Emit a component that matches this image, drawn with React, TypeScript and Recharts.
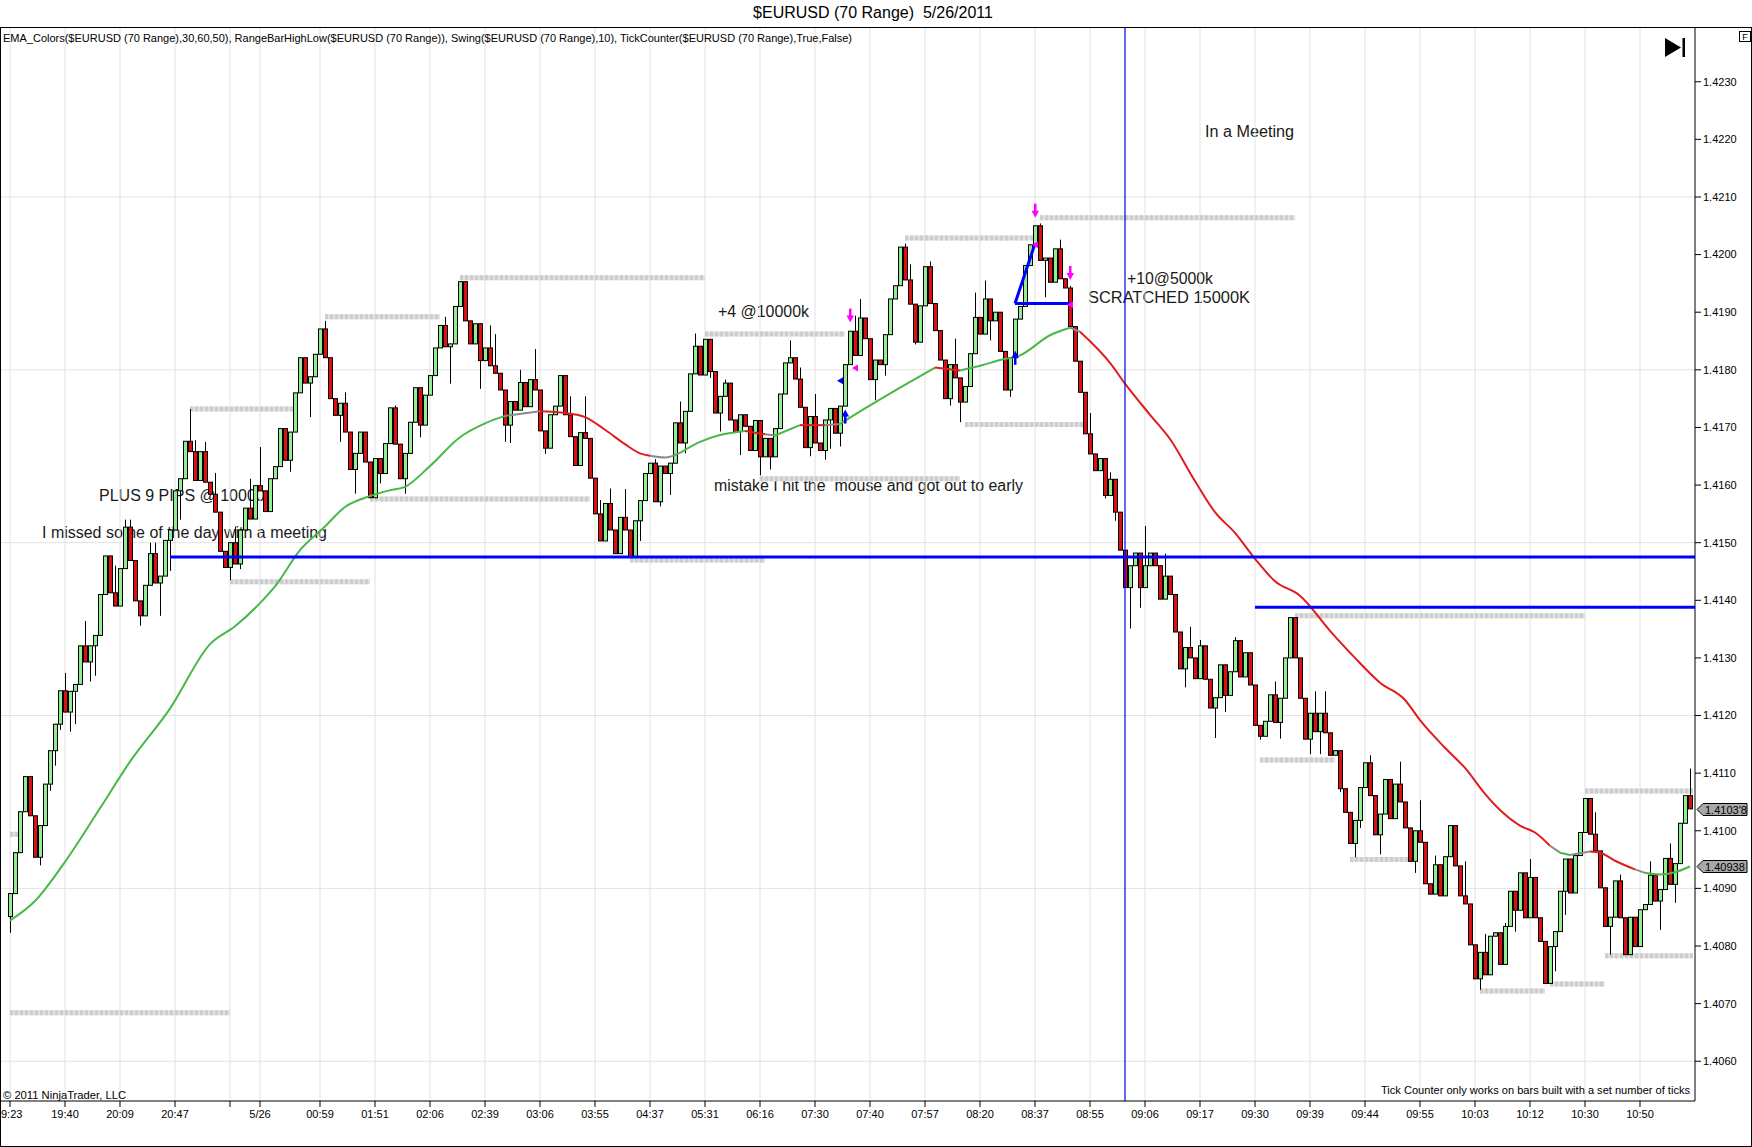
import React from "react";
import {
  Bar,
  CartesianGrid,
  ComposedChart,
  Line,
  ReferenceDot,
  ReferenceLine,
  XAxis,
  YAxis,
} from "recharts";

const FONT = '"Liberation Sans", Arial, sans-serif';
const W = 1752;
const H = 1147;

const UP_FILL = "#90ee90";
const DOWN_FILL = "#dc1010";
const EMA_UP = "#48b848";
const EMA_DOWN = "#e21c1c";
const EMA_FLAT = "#8a8a8a";

// range bars: each bar opens where the previous one closed
const firstOpen = 1.40851;
const closes = [
  1.40891, 1.40962, 1.41033, 1.41094, 1.41026, 1.40954, 1.41009, 1.41081, 1.41139, 1.41185,
  1.41243, 1.41206, 1.41242, 1.41254, 1.41321, 1.41293, 1.41321, 1.41339, 1.4141, 1.41477,
  1.41413, 1.4139, 1.41455, 1.41527, 1.41469, 1.41399, 1.41373, 1.41426, 1.41481, 1.4143,
  1.41442, 1.41504, 1.41522, 1.4159, 1.41611, 1.41676, 1.41658, 1.41608, 1.41658, 1.41605,
  1.41584, 1.41553, 1.41485, 1.41457, 1.415, 1.41463, 1.41522, 1.4156, 1.41541, 1.41599,
  1.4159, 1.41554, 1.41611, 1.41632, 1.41698, 1.41643, 1.41692, 1.4176, 1.41821, 1.41777,
  1.41788, 1.41827, 1.41871, 1.41821, 1.4175, 1.41721, 1.41742, 1.41692, 1.41627, 1.41655,
  1.41692, 1.4164, 1.41578, 1.41646, 1.4162, 1.41672, 1.41734, 1.41671, 1.41611, 1.41655,
  1.41709, 1.41769, 1.41704, 1.41756, 1.4179, 1.41838, 1.41877, 1.4184, 1.41845, 1.4191,
  1.41953, 1.41885, 1.41845, 1.4188, 1.41816, 1.41838, 1.41807, 1.41794, 1.41765, 1.41704,
  1.41745, 1.4173, 1.41778, 1.41736, 1.41783, 1.41765, 1.41694, 1.41664, 1.41722, 1.41737,
  1.4179, 1.41722, 1.41684, 1.41634, 1.41691, 1.41681, 1.41612, 1.4155, 1.41503, 1.41568,
  1.41522, 1.41481, 1.41544, 1.41522, 1.41476, 1.41538, 1.41573, 1.4162, 1.41638, 1.41571,
  1.41633, 1.4162, 1.41638, 1.41708, 1.41673, 1.41728, 1.41793, 1.41841, 1.41791, 1.41853,
  1.41797, 1.41725, 1.41754, 1.41777, 1.41713, 1.41693, 1.41722, 1.41702, 1.4166, 1.41712,
  1.41649, 1.41681, 1.41649, 1.41698, 1.41758, 1.41812, 1.41821, 1.41784, 1.41735, 1.41665,
  1.41719, 1.41673, 1.4166, 1.41713, 1.41733, 1.4169, 1.41737, 1.41809, 1.41867, 1.41825,
  1.4189, 1.41854, 1.41783, 1.41817, 1.41809, 1.41861, 1.41923, 1.41946, 1.42013, 1.41956,
  1.41914, 1.41848, 1.41911, 1.41979, 1.41915, 1.41868, 1.41817, 1.4175, 1.41809, 1.41786,
  1.41744, 1.41771, 1.41828, 1.41891, 1.41862, 1.41923, 1.41885, 1.419, 1.41832, 1.41765,
  1.41821, 1.41888, 1.4191, 1.41981, 1.42017, 1.4205, 1.4199, 1.41994, 1.41952, 1.4201,
  1.41958, 1.41942, 1.41875, 1.41815, 1.41761, 1.41689, 1.41654, 1.41625, 1.41646, 1.41582,
  1.4161, 1.41553, 1.41487, 1.41422, 1.4146, 1.41482, 1.41422, 1.4146, 1.41482, 1.4146,
  1.41402, 1.41442, 1.4141, 1.41345, 1.41281, 1.41318, 1.413, 1.41264, 1.41321, 1.41263,
  1.41213, 1.41231, 1.41288, 1.41235, 1.41276, 1.4133, 1.41267, 1.41309, 1.41253, 1.41183,
  1.41164, 1.4119, 1.41236, 1.41188, 1.4123, 1.413, 1.4137, 1.413, 1.4123, 1.41159,
  1.41204, 1.41172, 1.41204, 1.4117, 1.41131, 1.41139, 1.41073, 1.41032, 1.40978, 1.41018,
  1.41075, 1.41118, 1.41061, 1.40993, 1.41029, 1.41089, 1.41021, 1.41081, 1.4105, 1.41005,
  1.40947, 1.41, 1.4098, 1.40908, 1.4089, 1.40941, 1.40887, 1.40955, 1.41009, 1.40939,
  1.40887, 1.40873, 1.40802, 1.40743, 1.40789, 1.4075, 1.40817, 1.40823, 1.40768, 1.40834,
  1.40895, 1.40862, 1.40927, 1.40849, 1.40919, 1.40849, 1.40808, 1.40735, 1.40799, 1.40825,
  1.40895, 1.40951, 1.40892, 1.40957, 1.40997, 1.41056, 1.40994, 1.40965, 1.40901, 1.40834,
  1.4085, 1.40913, 1.40849, 1.40785, 1.4085, 1.40799, 1.40863, 1.40872, 1.40923, 1.40878,
  1.40898, 1.40952, 1.40907, 1.40943, 1.41013, 1.41061, 1.41038,
];

// [bar, price] of the wicks that stick out of the bodies
const wickHighs: [number, number][] = [
  [11, 1.41274], [15, 1.41364], [21, 1.4146], [23, 1.4154], [24, 1.4154], [28, 1.415],
  [29, 1.415], [36, 1.41732], [37, 1.41678], [39, 1.41675], [41, 1.41621], [45, 1.41528],
  [48, 1.41611], [50, 1.41666], [63, 1.41885], [67, 1.41761], [77, 1.41738], [87, 1.41892],
  [96, 1.41877], [97, 1.41862], [102, 1.418], [105, 1.41836], [111, 1.41791], [112, 1.41754],
  [115, 1.41754], [118, 1.41574], [120, 1.41594], [123, 1.41593], [129, 1.41645], [134, 1.41745],
  [137, 1.41863], [143, 1.41783], [156, 1.41851], [158, 1.41804], [161, 1.41758], [169, 1.41894],
  [170, 1.41923], [179, 1.42019], [180, 1.41983], [184, 1.41988], [189, 1.41854], [193, 1.41934],
  [195, 1.41955], [206, 1.42054], [210, 1.42026], [212, 1.41946], [216, 1.41725], [220, 1.41622],
  [227, 1.41529], [231, 1.41481], [236, 1.41354], [238, 1.41331], [245, 1.41336], [253, 1.41259],
  [261, 1.41242], [263, 1.41242], [272, 1.41131], [278, 1.4112], [282, 1.41053], [285, 1.40957],
  [291, 1.40947], [295, 1.40821], [299, 1.4084], [304, 1.40951], [317, 1.41032], [322, 1.40924],
  [328, 1.40947], [332, 1.40978], [336, 1.41108],
];
const wickLows: [number, number][] = [
  [0, 1.40823], [6, 1.4094], [7, 1.4107], [8, 1.41069], [9, 1.41113], [10, 1.41175],
  [12, 1.41172], [13, 1.41185], [16, 1.41259], [17, 1.41269], [26, 1.41356], [30, 1.41373],
  [32, 1.41451], [34, 1.4154], [44, 1.41435], [46, 1.41454], [56, 1.41623], [60, 1.41718],
  [66, 1.41675], [69, 1.41585], [74, 1.41603], [79, 1.41585], [82, 1.41683], [88, 1.41776],
  [94, 1.41767], [99, 1.41675], [100, 1.41673], [107, 1.41654], [126, 1.41503], [130, 1.41563],
  [132, 1.41583], [135, 1.41655], [140, 1.41786], [142, 1.41693], [146, 1.41652], [150, 1.41617],
  [152, 1.41627], [160, 1.4165], [163, 1.41644], [164, 1.41663], [166, 1.41667], [173, 1.41747],
  [175, 1.4179], [181, 1.41844], [188, 1.41738], [190, 1.41709], [196, 1.41851], [200, 1.41753],
  [207, 1.41926], [219, 1.41577], [221, 1.41538], [224, 1.41351], [226, 1.41387], [235, 1.41249],
  [241, 1.41161], [243, 1.41206], [250, 1.41158], [254, 1.4116], [260, 1.41133], [262, 1.41133],
  [266, 1.41067], [269, 1.40954], [270, 1.41005], [274, 1.40959], [281, 1.40927], [294, 1.40724],
  [301, 1.40825], [309, 1.40756], [311, 1.40854], [320, 1.40785], [330, 1.40828], [333, 1.40875],
];

// EMA_Colors, read at sample bars; trend letter is for the stretch to the next sample
const emaBars = [
  0, 5, 11, 18, 24, 32, 40, 45, 50, 53, 58, 63, 67, 71, 76, 79, 84, 90, 95, 99,
  106, 111, 115, 119, 123, 126, 128, 131, 134, 138, 142, 147, 151, 153, 158, 163, 166, 171, 177, 181,
  185, 190, 194, 198, 202, 208, 212, 214, 220, 223, 228, 232, 237, 241, 245, 249, 253, 258, 264, 269,
  274, 279, 282, 287, 291, 295, 298, 302, 305, 308, 310, 312, 316, 318, 321, 325, 327, 330, 333, 336,
];
const emaValues = [
  1.40844, 1.40878, 1.40946, 1.41039, 1.4112, 1.41212, 1.41324, 1.41355, 1.41395, 1.41424,
  1.41487, 1.41528, 1.41562, 1.41578, 1.41591, 1.41597, 1.41633, 1.41683, 1.41707, 1.4172,
  1.41728, 1.41725, 1.41718, 1.41696, 1.41671, 1.41655, 1.41651, 1.41648, 1.41656, 1.41675,
  1.41687, 1.41694, 1.41688, 1.41686, 1.41704, 1.41704, 1.41706, 1.41733, 1.41764, 1.41784,
  1.41804, 1.41799, 1.41807, 1.41817, 1.41825, 1.4186, 1.41873, 1.41866, 1.41812, 1.41776,
  1.41722, 1.4168, 1.41607, 1.41553, 1.41517, 1.41472, 1.41433, 1.41408, 1.41347, 1.413,
  1.41257, 1.41227, 1.41192, 1.41144, 1.41109, 1.41064, 1.41036, 1.41009, 1.40997, 1.40974,
  1.40962, 1.40958, 1.40964, 1.40962, 1.40948, 1.40933, 1.40927, 1.40924, 1.40928, 1.40938,
];
const emaTrend = "uuuuuuuuuuuuuuuuuuufddddddffuuudfudfuuuuduuuuufddddddddddddddddddddddfufdddfuuu".split("");

// RangeBarHighLow dotted levels: [from bar, to bar, price]
const rangeLines: [number, number, number][] = [
  [0, 44, 1.40684], [0, 2, 1.40994], [36, 57, 1.41732], [44, 72, 1.41432], [63, 86, 1.41892],
  [72, 116, 1.41576], [90, 139, 1.4196], [124, 151, 1.4147], [139, 167, 1.41862], [150, 190, 1.41611],
  [179, 205, 1.42029], [191, 215, 1.41705], [206, 257, 1.42064], [250, 265, 1.41123], [257, 315, 1.41373],
  [268, 280, 1.4095], [294, 307, 1.40722], [308, 319, 1.40734], [315, 336.6, 1.41069], [319, 336.6, 1.40783],
];

// drawn lines
const levelLines: [number, number][] = [[32, 1.41475], [249, 1.41388]];
const tradeLines: [number, number, number, number][] = [
  [201, 1.41915, 205, 1.42019],
  [201, 1.41915, 212, 1.41915],
];
const cursorBar = 223;

// Swing / execution arrows
const arrowBars = [168, 205, 212, 167, 201];
const arrowPrices = [1.41882, 1.42064, 1.41956, 1.41731, 1.41833];
const arrowKinds = ["sell", "sell", "sell", "buy", "buy"];
const execBars = [166, 169, 205, 212];
const execPrices = [1.41781, 1.41803, 1.42017, 1.41913];
const execColors = ["#0000ff", "#ff00ff", "#ff00ff", "#ff00ff"];

const tickBars = [
  0, 11, 22, 33, 44, 50, 62, 73, 84, 95, 106, 117, 128, 139, 150, 161,
  172, 183, 194, 205, 216, 227, 238, 249, 260, 271, 282, 293, 304, 315, 326,
];
const tickLabels = [
  "9:23", "19:40", "20:09", "20:47", "", "5/26", "00:59", "01:51", "02:06", "02:39", "03:06",
  "03:55", "04:37", "05:31", "06:16", "07:30", "07:40", "07:57", "08:20", "08:37", "08:55",
  "09:06", "09:17", "09:30", "09:39", "09:44", "09:55", "10:03", "10:12", "10:30", "10:50",
];
const priceTicks = [
  1.406, 1.407, 1.408, 1.409, 1.41, 1.411, 1.412, 1.413, 1.414,
  1.415, 1.416, 1.417, 1.418, 1.419, 1.42, 1.421, 1.422, 1.423,
];
const gridPrices = [1.406, 1.409, 1.412, 1.415, 1.418, 1.421];
const lastPriceLabel = "1.4103'8";

const highMap = new Map(wickHighs);
const lowMap = new Map(wickLows);

const rows: any[] = closes.map((close, i) => {
  const open = i === 0 ? firstOpen : closes[i - 1];
  const high = Math.max(open, close, highMap.get(i) ?? -Infinity);
  const low = Math.min(open, close, lowMap.get(i) ?? Infinity);
  return { bar: i, open, close, high, low, range: [low, high] };
});

// split the EMA into same-colour runs, one Line each
type Run = { trend: string; from: number; to: number };
const runs: Run[] = [];
emaTrend.forEach((t, k) => {
  const last = runs[runs.length - 1];
  if (last && last.trend === t) last.to = k + 1;
  else runs.push({ trend: t, from: k, to: k + 1 });
});
runs.forEach((r, ri) => {
  for (let k = r.from; k <= r.to; k++) rows[emaBars[k]][`ema${ri}`] = emaValues[k];
});
const trendColor: Record<string, string> = { u: EMA_UP, d: EMA_DOWN, f: EMA_FLAT };

function Candle(props: any) {
  const { x, y, width, height, payload } = props;
  if (!payload || height == null || isNaN(y)) return null;
  const { open, close, high, low } = payload;
  const k = height / (high - low || 1e-9);
  const cx = Math.round(x + width / 2) + 0.5;
  const yo = y + (high - open) * k;
  const yc = y + (high - close) * k;
  const top = Math.min(yo, yc);
  const h = Math.max(Math.abs(yc - yo), 1);
  return (
    <g>
      <line x1={cx} x2={cx} y1={y} y2={y + height} stroke="#000" strokeWidth={1} />
      <rect
        x={cx - 2}
        y={top}
        width={4}
        height={h}
        fill={close >= open ? UP_FILL : DOWN_FILL}
        stroke="#000"
        strokeWidth={1}
      />
    </g>
  );
}

function TimeTick({ x, y, payload }: any) {
  const i = tickBars.indexOf(payload.value);
  const label = tickLabels[i] ?? "";
  return (
    <text
      x={i === 0 ? x - 9 : x}
      y={y + 9}
      textAnchor={i === 0 ? "start" : "middle"}
      fontSize={11}
      fontFamily={FONT}
      fill="#000"
    >
      {label}
    </text>
  );
}

function PriceTag({ viewBox, text }: any) {
  if (!viewBox) return null;
  const x = viewBox.x + viewBox.width + 2;
  const y = Math.round(viewBox.y) + 0.5;
  return (
    <g>
      <path
        d={`M${x} ${y} L${x + 6} ${y - 6} L${x + 50} ${y - 6} L${x + 50} ${y + 6} L${x + 6} ${y + 6} Z`}
        fill="#a8a8a8"
        stroke="#000"
        strokeWidth={1}
      />
      <text x={x + 8} y={y + 4} fontSize={11} fontFamily={FONT} fill="#000">
        {text}
      </text>
    </g>
  );
}

function SwingArrow({ cx, cy, kind }: any) {
  if (kind === "sell") {
    return (
      <g fill="#ff00ff">
        <rect x={cx - 1} y={cy - 14} width={2.5} height={8} />
        <path d={`M${cx - 3.5} ${cy - 7} L${cx + 4} ${cy - 7} L${cx + 0.25} ${cy} Z`} />
      </g>
    );
  }
  return (
    <g fill="#0000ff">
      <path d={`M${cx - 3.5} ${cy + 7} L${cx + 4} ${cy + 7} L${cx + 0.25} ${cy} Z`} />
      <rect x={cx - 1} y={cy + 6} width={2.5} height={8} />
    </g>
  );
}

function ExecMark({ cx, cy, color }: any) {
  return <path d={`M${cx - 3} ${cy} L${cx + 3} ${cy - 3.5} L${cx + 3} ${cy + 3.5} Z`} fill={color} />;
}

const notes = [
  { text: "In a Meeting", x: 1205, y: 137, len: 89 },
  { text: "+10@5000k", x: 1127, y: 284, len: 86 },
  { text: "SCRATCHED 15000K", x: 1088, y: 303, len: 162 },
  { text: "+4 @10000k", x: 718, y: 317, len: 91 },
  { text: "mistake I hit the  mouse and got out to early", x: 714, y: 491, len: 309 },
  { text: "PLUS 9 PIPS @ 10000", x: 99, y: 501, len: 0 },
  { text: "I missed some of the day with a meeting", x: 42, y: 538, len: 285 },
];

export default function App() {
  return (
    <div
      style={{
        position: "absolute",
        left: 0,
        top: 0,
        width: W,
        height: H,
        background: "#fff",
        overflow: "hidden",
        fontFamily: FONT,
      }}
    >
      {/* annotations sit behind the bars */}
      <svg width={W} height={H} style={{ position: "absolute", left: 0, top: 0 }}>
        {notes.map((n) => (
          <text
            key={n.text}
            x={n.x}
            y={n.y}
            fontSize={16}
            fontFamily={FONT}
            fill="#1a1a1a"
            xmlSpace="preserve"
            {...(n.len ? { textLength: n.len, lengthAdjust: "spacingAndGlyphs" } : {})}
          >
            {n.text}
          </text>
        ))}
      </svg>

      <div style={{ position: "absolute", left: 0, top: 0 }}>
        <ComposedChart
          width={W}
          height={H}
          data={rows}
          margin={{ top: 27, right: 0, bottom: 0, left: 0 }}
        >
          <CartesianGrid
            stroke="#e2e2e2"
            verticalValues={tickBars}
            horizontalValues={gridPrices}
          />
          <XAxis
            dataKey="bar"
            type="number"
            domain={[-2, 337]}
            allowDataOverflow
            ticks={tickBars}
            interval={0}
            height={46}
            axisLine={{ stroke: "#000" }}
            tickLine={{ stroke: "#000" }}
            tickSize={6}
            tick={<TimeTick />}
          />
          <YAxis
            orientation="right"
            type="number"
            domain={[1.40531, 1.42395]}
            allowDataOverflow
            ticks={priceTicks}
            interval={0}
            width={57}
            axisLine={{ stroke: "#000" }}
            tickLine={{ stroke: "#000" }}
            tickSize={6}
            tickFormatter={(v: number) => v.toFixed(4)}
            tick={{ fontSize: 11, fill: "#000", fontFamily: FONT }}
          />

          {rangeLines.map(([a, b, p], i) => (
            <ReferenceLine
              key={`hlb${i}`}
              segment={[
                { x: a, y: p },
                { x: b, y: p },
              ]}
              stroke="#e0e0e0"
              strokeWidth={5}
              ifOverflow="visible"
              zIndex={-10}
            />
          ))}
          {rangeLines.map(([a, b, p], i) => (
            <ReferenceLine
              key={`hl${i}`}
              segment={[
                { x: a, y: p },
                { x: b, y: p },
              ]}
              stroke="#cdcdcd"
              strokeWidth={5}
              strokeDasharray="3 2"
              ifOverflow="visible"
              zIndex={-9}
            />
          ))}

          <Bar
            dataKey="range"
            barSize={5}
            isAnimationActive={false}
            shape={(p: any) => <Candle {...p} />}
          />

          {runs.map((r, ri) => (
            <Line
              key={`ema${ri}`}
              dataKey={`ema${ri}`}
              type="monotone"
              stroke={trendColor[r.trend]}
              strokeWidth={2}
              dot={false}
              activeDot={false}
              connectNulls
              isAnimationActive={false}
            />
          ))}

          <ReferenceLine x={cursorBar} stroke="#0000ee" strokeWidth={1.2} />
          {levelLines.map(([b, p], i) => (
            <ReferenceLine
              key={`lv${i}`}
              segment={[
                { x: b, y: p },
                { x: 337, y: p },
              ]}
              stroke="#0000ff"
              strokeWidth={3}
              ifOverflow="visible"
            />
          ))}
          {tradeLines.map(([b1, p1, b2, p2], i) => (
            <ReferenceLine
              key={`tr${i}`}
              segment={[
                { x: b1, y: p1 },
                { x: b2, y: p2 },
              ]}
              stroke="#0000ff"
              strokeWidth={3}
              ifOverflow="visible"
            />
          ))}

          {arrowBars.map((b, i) => (
            <ReferenceDot
              key={`ar${i}`}
              x={b}
              y={arrowPrices[i]}
              r={4}
              ifOverflow="visible"
              shape={(p: any) => <SwingArrow {...p} kind={arrowKinds[i]} />}
            />
          ))}
          {execBars.map((b, i) => (
            <ReferenceDot
              key={`ex${i}`}
              x={b}
              y={execPrices[i]}
              r={3}
              ifOverflow="visible"
              shape={(p: any) => <ExecMark {...p} color={execColors[i]} />}
            />
          ))}

          <ReferenceLine
            y={closes[closes.length - 1]}
            stroke="none"
            ifOverflow="visible"
            label={<PriceTag text={lastPriceLabel} />}
          />
          <ReferenceLine
            y={emaValues[emaValues.length - 1]}
            stroke="none"
            ifOverflow="visible"
            label={<PriceTag text={emaValues[emaValues.length - 1].toFixed(5)} />}
          />
        </ComposedChart>
      </div>

      {/* window chrome */}
      <svg
        width={W}
        height={H}
        style={{ position: "absolute", left: 0, top: 0, pointerEvents: "none" }}
      >
        <text x={873} y={18} textAnchor="middle" fontSize={16} fontFamily={FONT} fill="#000" xmlSpace="preserve">
          $EURUSD (70 Range)  5/26/2011
        </text>
        <rect x={0.5} y={27.5} width={W - 1} height={H - 28} fill="none" stroke="#000" strokeWidth={1} />
        <text
          x={3}
          y={42}
          fontSize={11}
          fontFamily={FONT}
          fill="#000"
          textLength={849}
          lengthAdjust="spacingAndGlyphs"
        >
          EMA_Colors($EURUSD (70 Range),30,60,50), RangeBarHighLow($EURUSD (70 Range)), Swing($EURUSD (70 Range),10), TickCounter($EURUSD (70 Range),True,False)
        </text>
        <path d="M1665 38 L1665 57 L1681 47.5 Z" fill="#000" />
        <rect x={1682.5} y={38} width={2.5} height={19} fill="#000" />
        <rect x={1739.5} y={31.5} width={11} height={10} fill="#fff" stroke="#000" strokeWidth={1} />
        <text x={1745} y={40} textAnchor="middle" fontSize={9} fontFamily={FONT} fill="#000">
          F
        </text>
        <text
          x={3}
          y={1099}
          fontSize={11}
          fontFamily={FONT}
          fill="#000"
          textLength={123}
          lengthAdjust="spacingAndGlyphs"
        >
          © 2011 NinjaTrader, LLC
        </text>
        <text
          x={1381}
          y={1094}
          fontSize={11}
          fontFamily={FONT}
          fill="#000"
          textLength={309}
          lengthAdjust="spacingAndGlyphs"
        >
          Tick Counter only works on bars built with a set number of ticks
        </text>
      </svg>
    </div>
  );
}
